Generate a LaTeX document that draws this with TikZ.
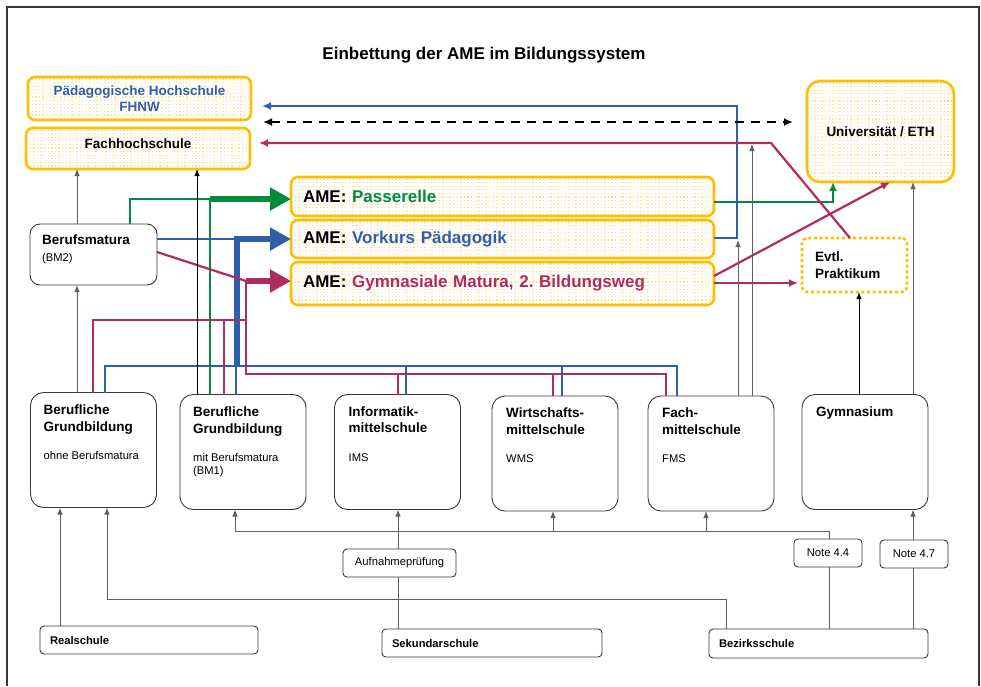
\documentclass[tikz,border=0pt]{standalone}
\usepackage{fontspec}
\setmainfont{Liberation Sans}
\usetikzlibrary{arrows.meta,calc}

\definecolor{amegelb}{RGB}{255,190,0}
\definecolor{amegruen}{RGB}{0,140,60}
\definecolor{ameblau}{RGB}{47,94,170}
\definecolor{amerot}{RGB}{174,44,94}
\definecolor{rahmen}{RGB}{55,55,55}
\definecolor{linie}{RGB}{95,95,95}

\newcommand{\gross}{\fontsize{17}{20}\selectfont}
\newcommand{\mittel}{\fontsize{13.5}{16.5}\selectfont}
\newcommand{\klein}{\fontsize{11.2}{13.5}\selectfont}

\tikzset{
  groesse/.style 2 args={minimum width=#1pt,minimum height=#2pt},
  punktfeld/.style={path picture={
    \foreach \i in {0,...,29}
      \draw[amegelb!45,line width=1.3pt,dash pattern=on 1.3pt off 2.3pt]
        ([yshift=-\i*3.6pt-2pt]path picture bounding box.north west)
        -- ([yshift=-\i*3.6pt-2pt]path picture bounding box.north east);
  }},
  hochschule/.style={draw=amegelb,line width=2.6pt,rounded corners=7pt,
    punktfeld,inner sep=0pt,outer sep=0pt,font=\mittel\bfseries},
  ame/.style={hochschule,font=\gross\bfseries,align=left,text width=399pt},
  schule/.style={draw=rahmen,line width=0.9pt,rounded corners=13pt,
    inner sep=0pt,outer sep=0pt,groesse={126}{115}},
  kurz/.style={draw=rahmen,line width=0.9pt,rounded corners=4pt,
    inner sep=0pt,outer sep=0pt,font=\klein},
  beschrift/.style={anchor=north west,inner sep=0pt,align=left,font=\mittel},
  pfeil/.style={draw=linie,line width=0.9pt,-{Latex[length=7pt,width=5.5pt]}},
  gruen/.style={draw=amegruen,line width=2.2pt},
  blau/.style={draw=ameblau,line width=2.2pt},
  rot/.style={draw=amerot,line width=2.2pt},
  spitze/.style={-{Latex[length=9pt,width=8pt]}},
  breit/.style={line width=6pt,-{Triangle[length=21pt,width=22pt]}},
}

\begin{document}
\begin{tikzpicture}[x=1pt,y=-1pt]
  \useasboundingbox (0,0) rectangle (981,686);
  \draw[rahmen,line width=2pt] (6.5,686) -- (6.5,6.5) -- (978.5,6.5) -- (978.5,686);

  \node[font=\gross\bfseries] (titel) at (484,55) {Einbettung der AME im Bildungssystem};

  % Hochschulen
  \node[hochschule,groesse={223}{43},align=center,text=ameblau] (ph) at (139.5,98.5)
    {Pädagogische Hochschule\\FHNW};
  \node[hochschule,groesse={224}{41},text depth=10pt] (fh) at (138,148.5) {Fachhochschule};
  \node[hochschule,groesse={147}{101},rounded corners=13pt] (uni) at (880.5,131.5)
    {Universität / ETH};

  % AME
  \node[ame,groesse={423}{39}] (pas) at (502.5,196.5) {AME: \textcolor{amegruen}{Passerelle}};
  \node[ame,groesse={423}{38}] (vor) at (502.5,239) {AME: \textcolor{ameblau}{Vorkurs Pädagogik}};
  \node[ame,groesse={423}{43}] (gbw) at (502.5,283.5)
    {AME: \textcolor{amerot}{Gymnasiale Matura, 2.\ Bildungsweg}};
  \node[draw=amegelb,line width=2.6pt,dash pattern=on 3pt off 2.6pt,rounded corners=6pt,
    inner sep=0pt,outer sep=0pt,groesse={105}{54},align=left,text width=79pt,
    font=\mittel\bfseries] (prak) at (854.5,265) {Evtl.\\Praktikum};

  % Schulen
  \node[schule,groesse={127}{61},rounded corners=10pt] (bm) at (93.5,254.5) {};
  \node[beschrift] at ($(bm.north west)+(12,11)$) {\textbf{Berufsmatura}\\{\klein(BM2)}};
  \foreach \n/\x/\y in {bgo/93.5/450,bgm/243/452,ims/397.5/452,wms/555/453.5,
      fms/711/453.5,gymn/865/452}
    \node[schule] (\n) at (\x,\y) {};
  \node[beschrift] at ($(bgo.north west)+(13,12.5)$)
    {\textbf{Berufliche}\\\textbf{Grundbildung}\\[12pt]{\klein ohne Berufsmatura}};
  \node[beschrift] at ($(bgm.north west)+(13,12.5)$)
    {\textbf{Berufliche}\\\textbf{Grundbildung}\\[12pt]{\klein mit Berufsmatura}\\[-3.5pt]{\klein (BM1)}};
  \node[beschrift] at ($(ims.north west)+(14,12)$)
    {\textbf{Informatik-}\\\textbf{mittelschule}\\[12pt]{\klein IMS}};
  \node[beschrift] at ($(wms.north west)+(14,12)$)
    {\textbf{Wirtschafts-}\\\textbf{mittelschule}\\[12pt]{\klein WMS}};
  \node[beschrift] at ($(fms.north west)+(14,12)$)
    {\textbf{Fach-}\\\textbf{mittelschule}\\[12pt]{\klein FMS}};
  \node[beschrift] at ($(gymn.north west)+(14,12)$) {\textbf{Gymnasium}};

  \node[kurz,groesse={113}{28}] (aufn) at (399.5,563) {Aufnahmeprüfung};
  \node[kurz,groesse={68}{28}] (n44) at (828,553) {Note 4.4};
  \node[kurz,groesse={68}{28}] (n47) at (914,554) {Note 4.7};
  \node[kurz,groesse={218}{28},text width=198pt,align=left,font=\klein\bfseries] (real)
    at (149,640) {Realschule};
  \node[kurz,groesse={220}{28},text width=200pt,align=left,font=\klein\bfseries] (sek)
    at (492,643) {Sekundarschule};
  \node[kurz,groesse={219}{29},text width=199pt,align=left,font=\klein\bfseries] (bez)
    at (818.5,643.5) {Bezirksschule};

  \coordinate (gj) at (210,199);
  \coordinate (bj) at (237,239);
  \coordinate (rj) at (246,281);
  \coordinate (bknick) at (737,238);
  \coordinate (rknick) at (771,143);

  % gruen: Passerelle
  \draw[gruen] (bm.north -| 130,0) |- (gj);
  \draw[gruen] (bgm.north -| 210,0) -- (gj);
  \draw[amegruen,breit] (gj) -- (pas.west |- gj);
  \draw[gruen,spitze] (pas.east |- 0,202) -| (uni.south -| 833,0);

  % blau: Vorkurs
  \draw[blau] (bm.east |- bj) -- (bj);
  \draw[ameblau,breit] (237,366) |- (vor.west |- bj);
  \draw[blau] (bgo.north -| 105,0) -- (105,366) -| (fms.north -| 677,0);
  \foreach \s/\x in {bgm/236,ims/406,wms/562}
    \draw[blau] (\x,366) -- (\s.north -| \x,0);
  \draw[blau,spitze,shorten >=11pt] (vor.east |- bknick) -- (bknick) |- (ph.east |- 0,106);

  % rot: 2. Bildungsweg
  \draw[rot] (bm.east |- 0,252) -- (rj);
  \draw[amerot,breit] (rj) -- (gbw.west |- rj);
  \draw[rot] (rj) -- (246,374) -| (fms.north -| 666,0);
  \foreach \s/\x in {ims/398,wms/553}
    \draw[rot] (\x,374) -- (\s.north -| \x,0);
  \draw[rot] (bgo.north -| 93,0) |- (246,320);
  \draw[rot] (224,320) -- (bgm.north -| 224,0);
  \draw[rot,spitze,shorten >=4pt] (gbw.east |- 0,283) -- (prak.west |- 0,283);
  \draw[rot,spitze] (gbw.east |- 0,276) -- (uni.south -| 890,0);
  \draw[rot,spitze,shorten >=9pt] (prak.north -| 850,0) -- (rknick) -- (fh.east |- rknick);

  \draw[line width=2.5pt,dash pattern=on 9pt off 7pt,{Latex[length=9pt,width=8pt]}-{Latex[length=9pt,width=8pt]},
    shorten <=13pt,shorten >=14pt] (fh.east |- 0,122) -- (uni.west |- 0,122);

  % Uebertritte
  \draw[pfeil] (bgo.north -| 77,0) -- (bm.south -| 77,0);
  \draw[pfeil] (bm.north -| 77,0) -- (fh.south -| 77,0);
  \draw[pfeil,draw=black] (bgm.north -| 197,0) -- (fh.south -| 197,0);
  \draw[pfeil] (fms.north -| 738,0) -- (738,240);
  \draw[pfeil] (fms.north -| 752,0) -- (752,144);
  \draw[pfeil,draw=black] (gymn.north -| 859,0) -- (prak.south -| 859,0);
  \draw[pfeil] (gymn.north -| 913,0) -- (uni.south -| 913,0);

  \draw[pfeil] (real.north -| 60,0) -- (bgo.south -| 60,0);
  \draw[pfeil] (bez.north -| 726,0) |- (107,599) -- (bgo.south -| 107,0);
  \draw[linie,line width=0.9pt] (sek.north -| 398,0) -- (aufn.south -| 398,0);
  \draw[pfeil] (aufn.north -| 398,0) -- (ims.south -| 398,0);
  \draw[linie,line width=0.9pt] (bez.north -| 829,0) -- (n44.south -| 829,0);
  \draw[pfeil] (n44.north -| 829,0) |- (235,531) -- (bgm.south -| 235,0);
  \foreach \s/\x in {wms/553,fms/706}
    \draw[pfeil] (\x,531) -- (\s.south -| \x,0);
  \draw[linie,line width=0.9pt] (bez.north -| 913,0) -- (n47.south -| 913,0);
  \draw[pfeil] (n47.north -| 913,0) -- (gymn.south -| 913,0);
\end{tikzpicture}
\end{document}
